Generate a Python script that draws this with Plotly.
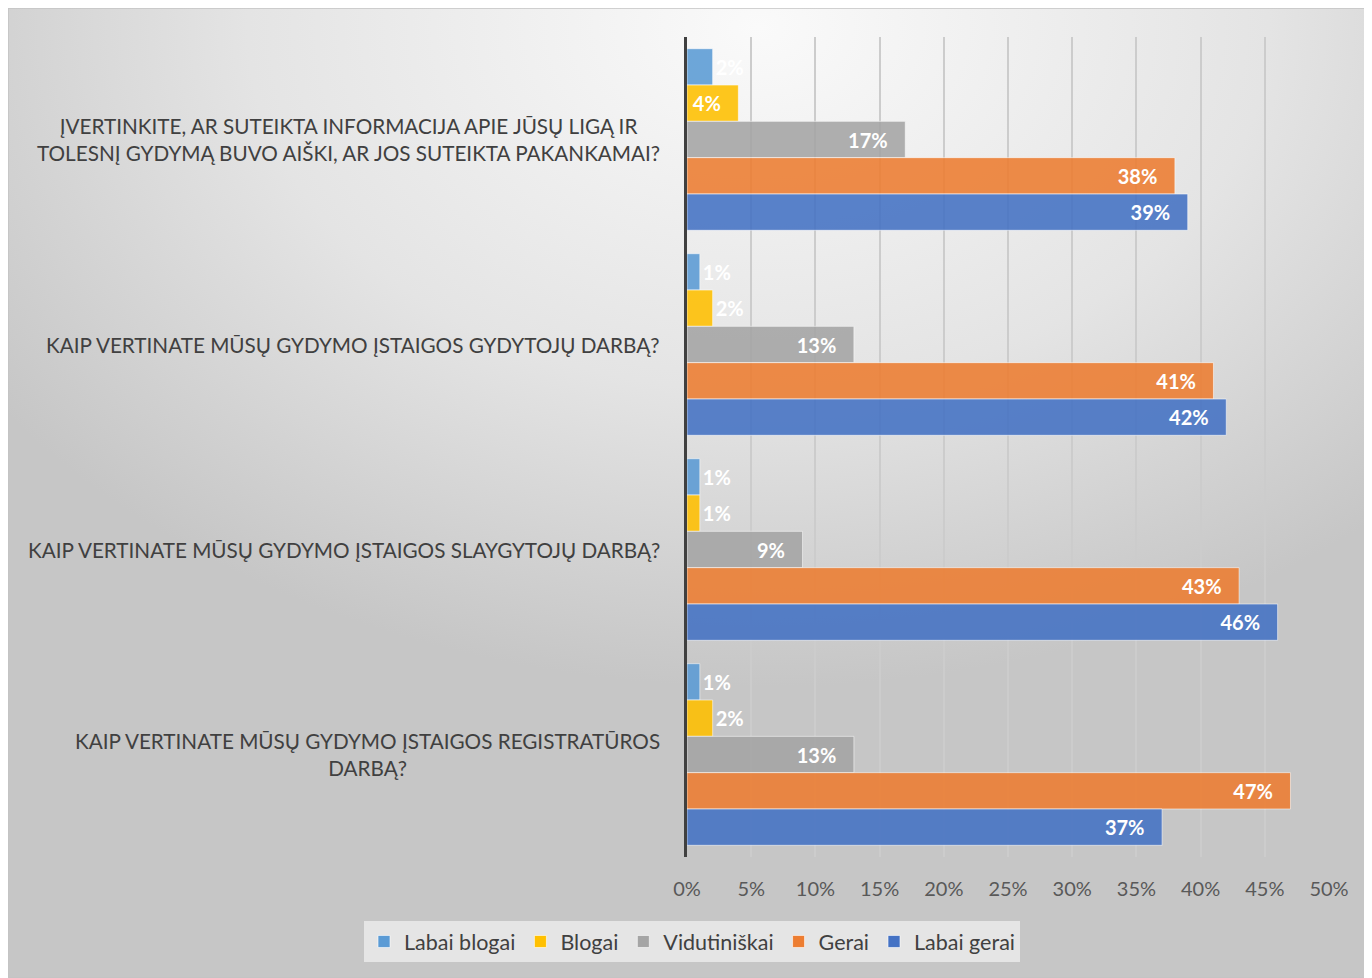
import base64
import plotly.graph_objects as go

categories = [
    "ĮVERTINKITE, AR SUTEIKTA INFORMACIJA APIE JŪSŲ LIGĄ IR<br>TOLESNĮ GYDYMĄ BUVO AIŠKI, AR JOS SUTEIKTA PAKANKAMAI?",
    "KAIP VERTINATE MŪSŲ GYDYMO ĮSTAIGOS GYDYTOJŲ DARBĄ?",
    "KAIP VERTINATE MŪSŲ GYDYMO ĮSTAIGOS SLAYGYTOJŲ DARBĄ?",
    "KAIP VERTINATE MŪSŲ GYDYMO ĮSTAIGOS REGISTRATŪROS<br>DARBĄ?",
]
series_names = ["Labai blogai", "Blogai", "Vidutiniškai", "Gerai", "Labai gerai"]
labai_blogai = [2, 1, 1, 1]
blogai = [4, 2, 1, 2]
vidutiniskai = [17, 13, 9, 13]
gerai = [38, 41, 43, 47]
labai_gerai = [39, 42, 46, 37]
x_ticks = [0, 5, 10, 15, 20, 25, 30, 35, 40, 45, 50]

series_values = [labai_blogai, blogai, vidutiniskai, gerai, labai_gerai]
colors = ["#5B9BD5", "#FFC000", "#A5A5A5", "#ED7D31", "#4472C4"]

W, H = 1364, 970
ML, MR, MT, MB = 679, 43, 29, 121
PW, PH = W - ML - MR, H - MT - MB

fig = go.Figure()
for name, vals, col in zip(series_names, series_values, colors):
    texts = []
    pos = []
    for v in vals:
        if v <= 2:
            texts.append(f"{v}%")
            pos.append("outside")
        else:
            texts.append(f"{v}%\u00a0\u00a0\u00a0")
            pos.append("inside")
    fig.add_trace(go.Bar(
        y=categories, x=vals, name=name, orientation="h",
        marker=dict(color=col, opacity=0.88,
                    line=dict(color="rgba(255,255,255,0.6)", width=1)),
        text=texts, textposition=pos, insidetextanchor="end",
        textfont=dict(family="Lato", size=20, color="white", weight="bold"),
        outsidetextfont=dict(family="Lato", size=20, color="white", weight="bold"),
        cliponaxis=False, hoverinfo="skip",
    ))

# category labels as centered annotations
for c in categories:
    fig.add_annotation(
        x=-(ML - 654) / PW, xref="paper", xanchor="right", y=c, yref="y",
        text=c, showarrow=False, align="center",
        font=dict(family="Lato", size=20.7, color="#404040"),
    )

# gradient background over the whole figure
svg = (
    "<svg xmlns='http://www.w3.org/2000/svg' width='1364' height='970' preserveAspectRatio='none'>"
    "<defs><radialGradient id='g' cx='0.55' cy='0.02' r='0.68'>"
    "<stop offset='0' stop-color='#fafafa'/><stop offset='0.55' stop-color='#e4e4e4'/>"
    "<stop offset='1' stop-color='#c6c6c6'/></radialGradient></defs>"
    "<rect width='1364' height='970' fill='url(#g)'/></svg>"
)
src = "data:image/svg+xml;base64," + base64.b64encode(svg.encode()).decode()
fx0 = -ML / PW
fy0 = 1 + MT / PH
fig.add_layout_image(dict(
    source=src, xref="paper", yref="paper", x=fx0, y=fy0,
    sizex=W / PW, sizey=H / PH, sizing="stretch",
    xanchor="left", yanchor="top", layer="below",
))
fig.add_shape(type="rect", xref="paper", yref="paper",
              x0=fx0, x1=fx0 + W / PW, y0=fy0 - H / PH, y1=fy0,
              line=dict(color="#c4c4c4", width=1.5), fillcolor="rgba(0,0,0,0)",
              layer="below")

fig.update_layout(
    width=W, height=H,
    margin=dict(l=ML, r=MR, t=MT, b=MB, autoexpand=False),
    paper_bgcolor="#d8d8d8", plot_bgcolor="rgba(0,0,0,0)",
    barmode="group", bargap=0.114, bargroupgap=0,
    showlegend=True,
    legend=dict(orientation="h",
                x=(356 - ML) / PW, xanchor="left",
                y=-(913 - (MT + PH)) / PH, yanchor="top",
                bgcolor="rgba(234,234,234,0.85)",
                font=dict(family="Lato", size=21.5, color="#404040"),
                itemwidth=30, traceorder="normal"),
    xaxis=dict(range=[0, 50], tickvals=x_ticks,
               ticktext=[f"{t}%" for t in x_ticks],
               showgrid=True, gridcolor="#cccccc", gridwidth=2,
               zeroline=False, showline=False,
               ticks="outside", ticklen=14, tickcolor="rgba(0,0,0,0)",
               tickfont=dict(family="Lato", size=20, color="#595959")),
    yaxis=dict(autorange="reversed", showticklabels=False,
               showline=True, linecolor="#404040", linewidth=3,
               showgrid=False, zeroline=False, ticks=""),
)

fig.write_html("out.html")
